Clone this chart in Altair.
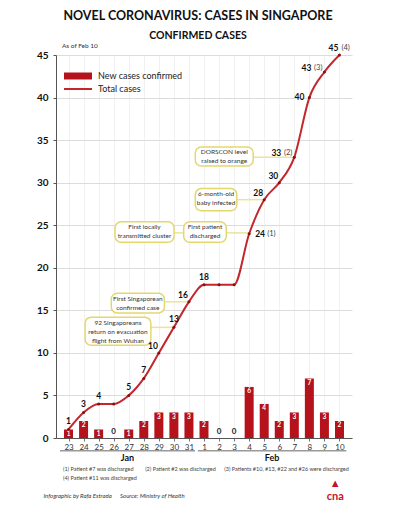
import json
import altair as alt
import pandas as pd

# ---------------- data ----------------
days = ["23", "24", "25", "26", "27", "28", "29", "30", "31",
        "1", "2", "3", "4", "5", "6", "7", "8", "9", "10"]
new_cases = [1, 2, 1, 0, 1, 2, 3, 3, 3, 2, 0, 0, 6, 4, 2, 3, 7, 3, 2]
total_cases = [1, 3, 4, 4, 5, 7, 10, 13, 16, 18, 18, 18, 24, 28, 30, 33, 40, 43, 45]
label_side = ["above", "above", "above", "none", "above", "above", "aboveleft", "above",
              "aboveleft", "above", "none", "none", "right", "aboveleft", "aboveleft",
              "left_note", "left", "left_note", "aboveleft"]
notes = ["", "", "", "", "", "", "", "", "", "", "", "", "(1)", "", "", "(2)", "", "(3)", "(4)"]

months = ["Jan", "Feb"]
month_start = [-0.57, 8.6]
month_end = [8.4, 18.45]

ann_text = ["DORSCON level\nraised to orange", "6-month-old\nbaby infected",
            "First patient\ndischarged", "First locally\ntransmitted cluster",
            "First Singaporean\nconfirmed case",
            "92 Singaporeans\nreturn on evacuation\nflight from Wuhan"]
ann_x1 = [8.42, 8.42, 7.65, 3.09, 2.84, 1.10]
ann_x2 = [12.27, 11.18, 10.48, 7.01, 6.37, 5.47]
ann_y1 = [31.96, 26.7, 23.0, 23.0, 14.7, 10.9]
ann_y2 = [34.2, 29.3, 25.4, 25.4, 17.0, 14.2]
conn_x1 = [12.27, 11.18, 10.48, 7.01, 6.37, 5.47]
conn_x2 = [15, 13, 12, 7.65, 8, 7]
conn_y = [33, 28, 24.1, 24.1, 16, 13]

footnotes = ["(1) Patient #7 was discharged", "(2) Patient #2 was discharged",
             "(3) Patients #10, #13, #22 and #26 were discharged",
             "(4) Patient #11 was discharged"]
footnote_x = [-0.37, 5.09, 10.35, -0.37]
footnote_y = [-3.7, -3.7, -3.7, -4.75]

credits = ["Infographic by Rafa Estrada", "Source: Ministry of Health"]
credit_x = [-1.66, 3.42]
credit_y = [-6.8, -6.8]

FONT = "Lato"
RED = "#b5121b"
LINE = "#c1272d"

df = pd.DataFrame({
    "idx": list(range(len(days))),
    "day": days,
    "new": new_cases,
    "total": total_cases,
    "side": label_side,
    "note": notes,
    "bar_series": ["New cases confirmed"] * len(days),
    "line_series": ["Total cases"] * len(days),
})
ann_df = pd.DataFrame({"text": ann_text, "x1": ann_x1, "x2": ann_x2, "y1": ann_y1, "y2": ann_y2})
ann_df["cx"] = (ann_df["x1"] + ann_df["x2"]) / 2
conn_df = pd.DataFrame({"x1": conn_x1, "x2": conn_x2, "y": conn_y})
month_df = pd.DataFrame({"m": months, "x1": month_start, "x2": month_end})
month_df["cx"] = (month_df["x1"] + month_df["x2"]) / 2
month_df["ly"] = -1.5
month_df["ty"] = -2.35
fn_df = pd.DataFrame({"t": footnotes, "x": footnote_x, "y": footnote_y})
cr_df = pd.DataFrame({"t": credits, "x": credit_x, "y": credit_y})
asof_df = pd.DataFrame({"t": ["As of Feb 10"], "x": [-0.44], "y": [46.0]})
logo_df = pd.DataFrame({"t": ["▲", "cna"], "x": [17.72, 17.72], "y": [-5.4, -6.95]})

# ---------------- shared scales / axes ----------------
label_expr = json.dumps(days) + "[datum.value]"
x_scale = alt.Scale(domain=[-0.5, 18.5], nice=False, zero=False)
y_scale = alt.Scale(domain=[0, 45], nice=False, zero=False)
x_axis = alt.Axis(values=list(range(len(days))), labelExpr=label_expr, title=None,
                  labelFont=FONT, labelFontSize=8, labelColor="#333", tickSize=3,
                  tickColor="#777", domainColor="#555", gridColor="#f1f1f1",
                  labelPadding=2, labelFlush=False)
y_axis = alt.Axis(values=list(range(0, 46, 5)), title=None, labelFont=FONT,
                  labelFontSize=10, labelFontWeight="bold", labelColor="#111",
                  tickSize=3, tickColor="#555", domainColor="#555", gridColor="#dcdcdc",
                  labelPadding=5)


def X(f):
    return alt.X(f, type="quantitative", scale=x_scale, axis=x_axis)


def Y(f):
    return alt.Y(f, type="quantitative", scale=y_scale, axis=y_axis)


base = alt.Chart(df)

# connectors
conn = alt.Chart(conn_df).mark_rule(color="#ece39a", strokeWidth=1.5).encode(
    x=X("x1"), x2=alt.X2("x2"), y=Y("y"))

# annotation boxes
boxes = alt.Chart(ann_df).mark_rect(fill="white", stroke="#e3d86f", strokeWidth=1.5,
                                    cornerRadius=6).encode(
    x=X("x1"), x2=alt.X2("x2"), y=Y("y1"), y2=alt.Y2("y2"))
box_text = alt.Chart(ann_df).mark_text(font=FONT, fontSize=6.5, color="#333",
                                       lineBreak="\n", baseline="top", dy=2.5,
                                       lineHeight=9).encode(
    x=X("cx"), y=Y("y2"), text="text:N")

# bars
bars = base.mark_bar(size=9).encode(
    x=X("idx"), y=Y("new"),
    color=alt.Color("bar_series:N",
                    scale=alt.Scale(domain=["New cases confirmed"], range=[RED]),
                    legend=alt.Legend(title=None, orient="none", legendX=7, legendY=6,
                                      symbolType="M-1,-0.25H1V0.25H-1Z", symbolSize=784,
                                      labelFont=FONT, labelFontSize=9, labelColor="#222",
                                      labelOffset=5, padding=0)))
bar_labels = base.transform_filter("datum.new > 0").mark_text(
    font=FONT, fontSize=6.5, fontWeight="bold", color="white", baseline="top", dy=1.5).encode(
    x=X("idx"), y=Y("new"), text="new:Q")
zero_labels = base.transform_filter("datum.new == 0").mark_text(
    font=FONT, fontSize=8, fontWeight="bold", color="#222", baseline="bottom", dy=-2).encode(
    x=X("idx"), y=Y("new"), text="new:Q")

# line
line = base.mark_line(interpolate="monotone", strokeWidth=2).encode(
    x=X("idx"), y=Y("total"),
    stroke=alt.Stroke("line_series:N",
                      scale=alt.Scale(domain=["Total cases"], range=[LINE]),
                      legend=alt.Legend(title=None, orient="none", legendX=7, legendY=19,
                                        symbolType="stroke", symbolSize=784,
                                        symbolStrokeWidth=2,
                                        labelFont=FONT, labelFontSize=9, labelColor="#222",
                                        labelOffset=5, padding=0)))
pts = base.mark_point(filled=True, size=9, color="#8a0e14", opacity=1).encode(
    x=X("idx"), y=Y("total"))

# total labels
label_specs = {
    "above": dict(align="center", dx=0, dy=-8),
    "aboveleft": dict(align="right", dx=-1, dy=-7),
    "left": dict(align="right", dx=-5, dy=-1),
    "right": dict(align="left", dx=6, dy=0),
    "left_note": dict(align="right", dx=-13, dy=-4),
}
note_specs = {
    "right": dict(align="left", dx=18, dy=0),
    "left_note": dict(align="right", dx=-2, dy=-4),
    "aboveleft": dict(align="left", dx=2, dy=-7),
}
label_layers = []
for side, s in label_specs.items():
    label_layers.append(
        base.transform_filter(f"datum.side == '{side}'").mark_text(
            font=FONT, fontSize=8.5, fontWeight="bold", color="#111", baseline="middle", **s
        ).encode(x=X("idx"), y=Y("total"), text="total:Q"))
for side, s in note_specs.items():
    label_layers.append(
        base.transform_filter(f"datum.side == '{side}' && datum.note != ''").mark_text(
            font=FONT, fontSize=7.5, color="#444", baseline="middle", **s
        ).encode(x=X("idx"), y=Y("total"), text="note:N"))

# months
month_rules = alt.Chart(month_df).mark_rule(color="#9a9a9a", strokeWidth=1.5).encode(
    x=X("x1"), x2=alt.X2("x2"), y=Y("ly"))
month_text = alt.Chart(month_df).mark_text(font=FONT, fontSize=9, fontWeight="bold",
                                           color="#111", baseline="middle").encode(
    x=X("cx"), y=Y("ty"), text="m:N")

fn_text = alt.Chart(fn_df).mark_text(font=FONT, fontSize=5.5, color="#444",
                                     align="left", baseline="middle").encode(
    x=X("x"), y=Y("y"), text="t:N")
cr_text = alt.Chart(cr_df).mark_text(font=FONT, fontSize=6, fontStyle="italic", color="#333",
                                     align="left", baseline="middle").encode(
    x=X("x"), y=Y("y"), text="t:N")
asof_text = alt.Chart(asof_df).mark_text(font=FONT, fontSize=6.5, color="#333",
                                         align="left", baseline="middle").encode(
    x=X("x"), y=Y("y"), text="t:N")
logo = alt.Chart(logo_df).mark_text(font=FONT, fontSize=11, fontWeight="bold", color="#c8102e",
                                    baseline="middle").encode(
    x=X("x"), y=Y("y"), text="t:N")

chart = alt.layer(
    conn, boxes, box_text, bars, bar_labels, zero_labels, line, pts,
    *label_layers, month_rules, month_text, fn_text, cr_text, asof_text, logo
).resolve_scale(
    color="independent", stroke="independent"
).properties(
    width=296, height=383,
    autosize=alt.AutoSizeParams(type="none"),
    padding={"left": 48, "top": 47, "right": 30, "bottom": 66},
    title=alt.TitleParams(
        "NOVEL CORONAVIRUS: CASES IN SINGAPORE",
        subtitle="CONFIRMED CASES",
        font=FONT, fontSize=12.5, fontWeight="bold", color="#111",
        subtitleFont=FONT, subtitleFontSize=10.5, subtitleFontWeight="bold",
        subtitleColor="#111", subtitlePadding=8, anchor="middle", offset=2, dx=-6,
    ),
).configure_view(stroke=None)

chart.save("out.html", embed_options={"renderer": "svg", "actions": False})
